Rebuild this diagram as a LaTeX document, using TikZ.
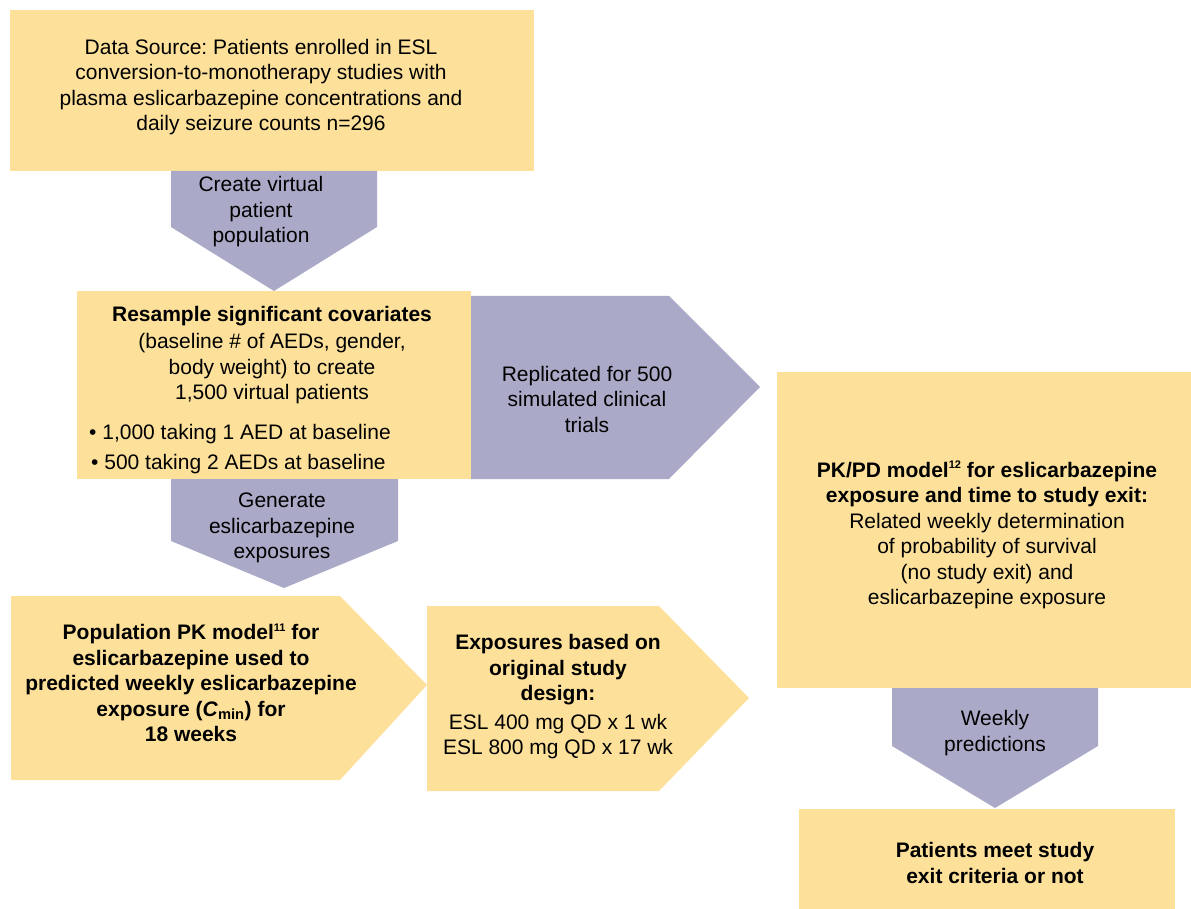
\documentclass[tikz,border=0pt]{standalone}
\usepackage{fontspec}
\setmainfont{Liberation Sans}
\frenchspacing

\definecolor{boxyellow}{RGB}{253,225,155}
\definecolor{arrowpurple}{RGB}{170,170,200}
\newcommand{\refmark}[1]{\raisebox{0.75ex}{\fontsize{11}{11}\selectfont #1}}

\begin{document}
\begin{tikzpicture}[
    x=1pt, y=-1pt, % pixel-like units, y running down
    boxfill/.style={fill=boxyellow}, % yellow step boxes
    arrowfill/.style={fill=arrowpurple}, % purple block arrows
    txt/.style={inner sep=0pt, align=center, font=\fontsize{21}{25.5}\selectfont}
]
    \useasboundingbox (0,0) rectangle (1191,909);

    % Data source
    \fill[boxfill] (10,10) rectangle (534,171);
    \node[txt] (source) at (261,87) {Data Source: Patients enrolled in ESL\\
        conversion-to-monotherapy studies with\\
        plasma eslicarbazepine concentrations and\\
        daily seizure counts n=296};

    % Create virtual patient population
    \fill[arrowfill] (171,171) -- (377,171) -- (377,227) -- (274,291) -- (171,227) -- cycle;
    \node[txt] (create) at (261,212) {Create virtual\\ patient\\ population};

    % Resample covariates
    \fill[boxfill] (77,291) rectangle (471,479);
    \node[txt] (resample) at (272,355) {\textbf{Resample significant covariates}\\[2pt]
        (baseline \# of AEDs, gender,\\ body weight) to create\\ 1,500 virtual patients};
    \node[txt, align=left, anchor=west] (bullets) at (89,449)
        {• 1,000 taking 1 AED at baseline\\[5pt] \hspace{2pt}• 500 taking 2 AEDs at baseline};

    % Replicated trials
    \fill[arrowfill] (471,296) -- (669,296) -- (760,387) -- (669,479) -- (471,479) -- cycle;
    \node[txt] (replicate) at (587,399) {Replicated for 500\\ simulated clinical\\ trials};

    % Generate exposures
    \fill[arrowfill] (171,479) -- (398,479) -- (398,541) -- (284,588) -- (171,541) -- cycle;
    \node[txt] (generate) at (282,528) {Generate\\ eslicarbazepine\\ exposures};

    % Population PK model
    \fill[boxfill] (11,596) -- (340,596) -- (427,685) -- (340,780) -- (11,780) -- cycle;
    \node[txt, font=\fontsize{21}{25.5}\selectfont\bfseries] (popmodel) at (191,683)
        {Population PK model\refmark{11} for\\ eslicarbazepine used to\\
        predicted weekly eslicarbazepine\\ exposure (\textit{C}\textsubscript{min}) for\\ 18 weeks};

    % Exposures by design
    \fill[boxfill] (427,606) -- (659,606) -- (749,698) -- (659,791) -- (427,791) -- cycle;
    \node[txt] (design) at (558,697) {\textbf{Exposures based on}\\ \textbf{original study}\\
        \textbf{design:}\\[3pt] ESL 400 mg QD x 1 wk\\ ESL 800 mg QD x 17 wk};

    % PK/PD model
    \fill[boxfill] (777,372) rectangle (1191,688);
    \node[txt] (pkpd) at (987,535) {\textbf{PK/PD model\refmark{12} for eslicarbazepine}\\
        \textbf{exposure and time to study exit:}\\ Related weekly determination\\
        of probability of survival\\ (no study exit) and\\ eslicarbazepine exposure};

    % Weekly predictions
    \fill[arrowfill] (892,688) -- (1098,688) -- (1098,746) -- (995,808) -- (892,746) -- cycle;
    \node[txt] (weekly) at (995,733) {Weekly\\ predictions};

    % Study exit
    \fill[boxfill] (799,809) rectangle (1175,909);
    \node[txt, font=\fontsize{21}{25.5}\selectfont\bfseries] (exit) at (995,863)
        {Patients meet study\\ exit criteria or not};

\end{tikzpicture}
\end{document}
